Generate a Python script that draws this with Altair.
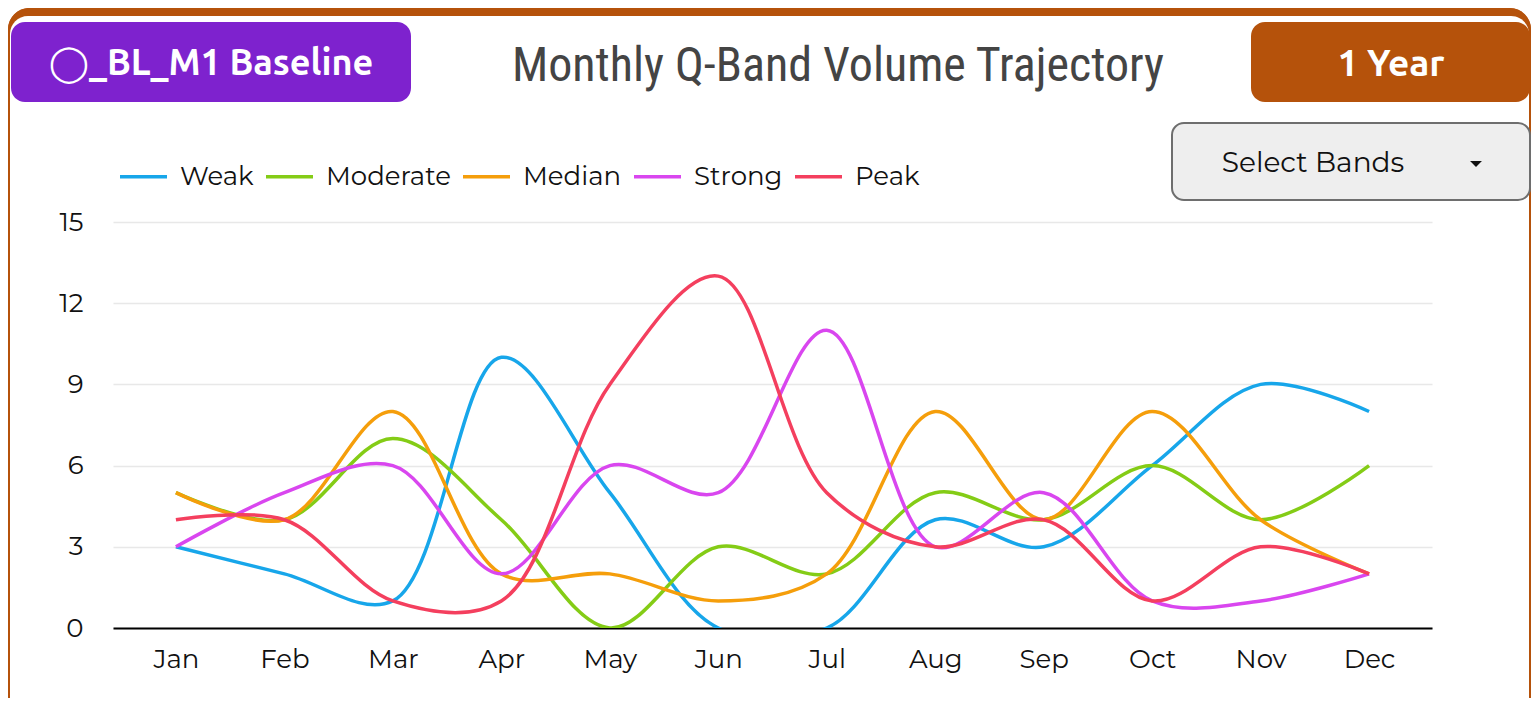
import altair as alt
import pandas as pd

months = ["Jan", "Feb", "Mar", "Apr", "May", "Jun", "Jul", "Aug", "Sep", "Oct", "Nov", "Dec"]
bands = ["Weak", "Moderate", "Median", "Strong", "Peak"]
band_colors = ["#17a6ea", "#84cc16", "#f59e0b", "#d946ef", "#f43f5e"]

weak = [3, 2, 1, 10, 5, 0, 0, 4, 3, 6, 9, 8]
moderate = [5, 4, 7, 4, 0, 3, 2, 5, 4, 6, 4, 6]
median = [5, 4, 8, 2, 2, 1, 2, 8, 4, 8, 4, 2]
strong = [3, 5, 6, 2, 6, 5, 11, 3, 5, 1, 1, 2]
peak = [4, 4, 1, 1, 9, 13, 5, 3, 4, 1, 3, 2]
y_ticks = [0, 3, 6, 9, 12, 15]

title_text = "Monthly Q-Band Volume Trajectory"
left_button = "◯_BL_M1 Baseline"
right_button = "1 Year"
dropdown_text = "Select Bands"

series = [weak, moderate, median, strong, peak]
rows = []
for b, vals in zip(bands, series):
    for m, v in zip(months, vals):
        rows.append({"month": m, "band": b, "value": v})
df = pd.DataFrame(rows)

W, H = 1319, 406
ORANGE = "#b5520b"
PURPLE = "#7e22ce"
LABEL_FONT = "Montserrat, Open Sans, sans-serif"
BTN_FONT = "Ubuntu, Open Sans, DejaVu Sans, sans-serif"
TITLE_FONT = "Roboto Condensed, Liberation Sans Narrow, DejaVu Sans Condensed, Roboto, sans-serif"

one = pd.DataFrame({"d": [0]})


def box(x1, x2, y1, y2, **kw):
    return alt.Chart(one).mark_rect(**kw).encode(
        x=alt.value(x1), x2=alt.value(x2), y=alt.value(y1), y2=alt.value(y2)
    )


def label(txt, x, y, **kw):
    return alt.Chart(one).mark_text(text=txt, **kw).encode(x=alt.value(x), y=alt.value(y))


# card frame (thin sides, thick rounded top)
card_side = box(-104, W + 98, -213, H + 90, fillOpacity=0, stroke=ORANGE, strokeWidth=2,
                cornerRadius=20)
card_top = box(-105, W + 99, -214, -170, color=ORANGE, cornerRadius=22)
card_top_in = box(-103, W + 97, -206, -140, color="white", cornerRadius=18)

purple_btn = box(-102, 298, -200, -120, color=PURPLE, cornerRadius=14)
purple_txt = label(left_button, 98, -158, font=BTN_FONT, fontSize=36, fontWeight="bold",
                   color="white", align="center", baseline="middle")
title = label(title_text, 725, -155, font=TITLE_FONT, fontSize=48, color="#444444",
              align="center", baseline="middle")
orange_btn = box(1138, 1417, -200, -120, color=ORANGE, cornerRadius=14)
orange_txt = label(right_button, 1278, -157, font=BTN_FONT, fontSize=37, fontWeight="bold",
                   color="white", align="center", baseline="middle")
drop_box = box(1059, 1417, -99, -22, fill="#eeeeee", stroke="#6e6e6e", strokeWidth=2, cornerRadius=12)
drop_txt = label(dropdown_text, 1200, -58, font=LABEL_FONT, fontSize=28, color="#111111",
                 align="center", baseline="middle")
caret = alt.Chart(one).mark_point(shape="M-1,-0.5L1,-0.5L0,0.5Z", filled=True, size=140,
                                  color="#111111", opacity=1).encode(x=alt.value(1363), y=alt.value(-58))

lines = alt.Chart(df).mark_line(strokeWidth=3.5, interpolate="catmull-rom", clip=True).encode(
    x=alt.X("month:N", sort=months, title=None,
            scale=alt.Scale(type="point", padding=0.58),
            axis=alt.Axis(labelAngle=0, domain=True, domainColor="#000000", domainWidth=2,
                          ticks=False, grid=False, labelFontSize=26, labelFont=LABEL_FONT,
                          labelColor="#111111", labelPadding=18)),
    y=alt.Y("value:Q", title=None, scale=alt.Scale(domain=[0, 15], nice=False, zero=True),
            axis=alt.Axis(values=y_ticks, domain=False, ticks=False, grid=True,
                          gridColor="#e8e8e8", gridWidth=1.5, labelFontSize=26,
                          labelFont=LABEL_FONT, labelColor="#111111", labelPadding=30)),
    color=alt.Color("band:N", sort=bands,
                    scale=alt.Scale(domain=bands, range=band_colors),
                    legend=alt.Legend(orient="none", legendX=5, legendY=-71, direction="horizontal",
                                      title=None, symbolType="stroke", symbolSize=2209,
                                      symbolStrokeWidth=3.5, labelFontSize=26, labelFont=LABEL_FONT,
                                      labelColor="#111111", labelOffset=11, columnPadding=5,
                                      symbolOffset=0)),
    detail="band:N",
)

chart = alt.layer(
    card_side, card_top, card_top_in, purple_btn, purple_txt, title, orange_btn, orange_txt,
    drop_box, drop_txt, caret, lines
).properties(
    width=W, height=H,
    padding={"left": 105, "top": 214, "right": 99, "bottom": 70},
    autosize=alt.AutoSizeParams(type="none"),
    background="white",
).configure_view(stroke=None)

chart.save("out.html", embed_options={"renderer": "svg", "actions": False})
